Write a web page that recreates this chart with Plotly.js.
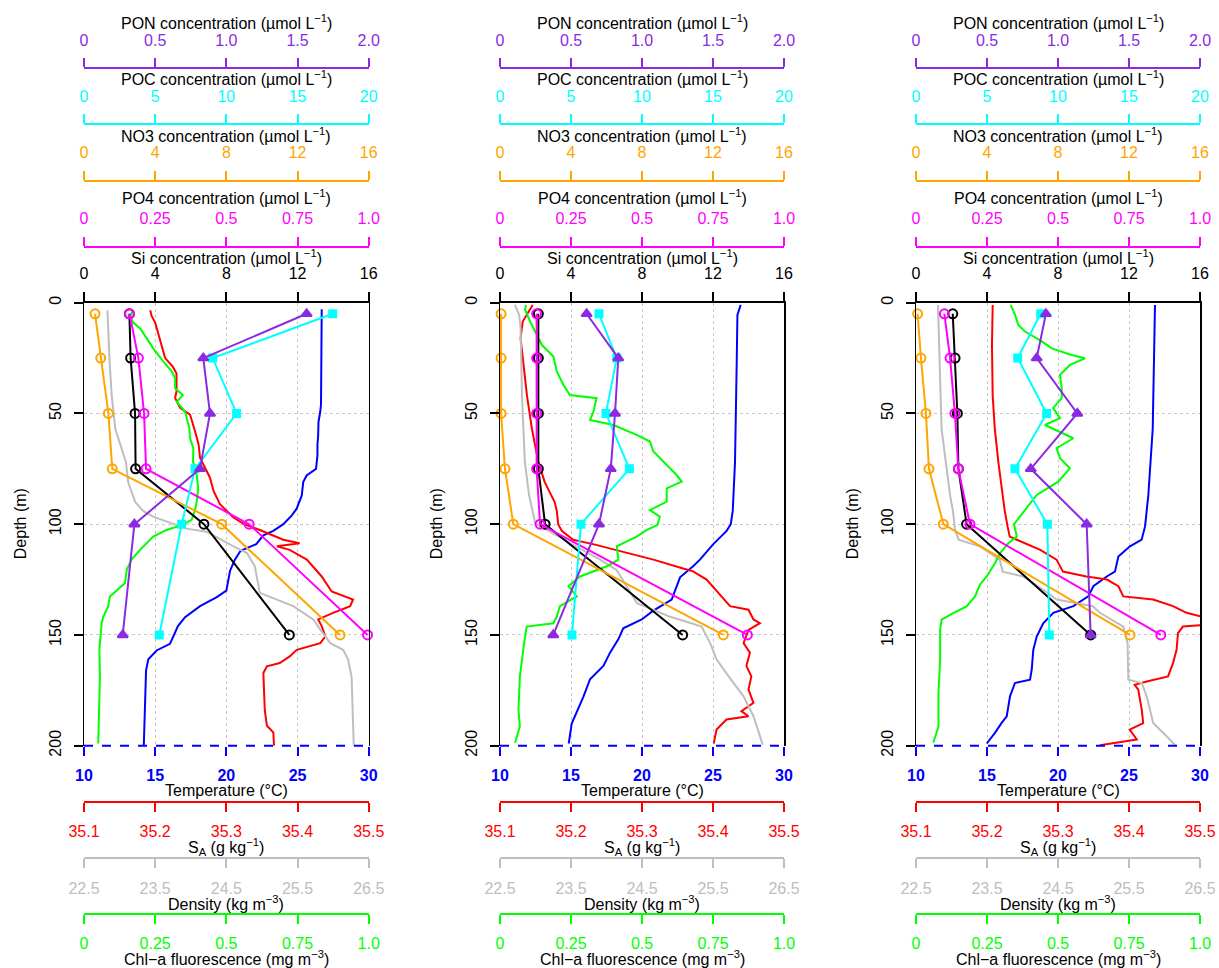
<!DOCTYPE html>
<html><head><meta charset="utf-8">
<script src="https://cdn.plot.ly/plotly-3.0.1.min.js"></script>
<style>html,body{margin:0;padding:0;background:#fff;} #chart{width:1219px;height:968px;}</style>
</head><body><div id="chart"></div>
<script>
// ---------------- DATA ----------------
const sampleDepths = [5, 25, 50, 75, 100, 150];

// Panel 1
const p1Si  = [2.55, 2.62, 2.87, 2.90, 6.74, 11.54];
const p1PO4 = [0.160, 0.191, 0.211, 0.218, 0.580, 0.996];
const p1NO3 = [0.62, 0.94, 1.37, 1.59, 7.74, 14.39];
const p1POC = [17.47, 9.04, 10.72, 7.80, 6.86, 5.29];
const p1PON = [1.564, 0.838, 0.885, 0.815, 0.354, 0.272];
const p1TempDepth = [3, 12, 27, 46, 49, 54, 60, 64, 69, 75, 78, 81, 87, 93, 96, 100, 103, 105, 109, 112, 116, 121, 130, 133, 137, 142, 146, 154, 157, 161, 166, 184, 200];
const p1Temp = [26.70, 26.70, 26.67, 26.65, 26.60, 26.47, 26.45, 26.40, 26.40, 26.30, 25.64, 25.40, 25.30, 24.94, 24.60, 24.00, 23.30, 22.60, 22.10, 21.00, 20.60, 20.26, 20.00, 19.30, 18.15, 17.10, 16.60, 16.04, 15.10, 14.52, 14.36, 14.27, 14.20];
const p1SalDepth = [3.4, 6, 9, 17, 25, 29, 32, 40, 43, 47.5, 50.5, 58, 64, 70, 74.5, 79, 85, 91, 97, 100, 102.6, 107, 108.6, 110, 111.6, 116, 123.6, 130.4, 134, 137, 140, 143, 146, 150.7, 153.7, 156.7, 159.7, 162.7, 164.2, 167.2, 184, 191, 194, 200];
const p1Sal = [35.193, 35.195, 35.200, 35.207, 35.214, 35.225, 35.230, 35.230, 35.228, 35.235, 35.249, 35.256, 35.261, 35.263, 35.270, 35.277, 35.282, 35.291, 35.310, 35.325, 35.347, 35.380, 35.403, 35.371, 35.389, 35.413, 35.434, 35.448, 35.478, 35.474, 35.450, 35.429, 35.434, 35.439, 35.432, 35.399, 35.389, 35.375, 35.357, 35.352, 35.354, 35.357, 35.366, 35.367];
const p1DensDepth = [3.4, 27, 42, 57, 64, 72, 81, 90, 94, 96.6, 102, 103.4, 110, 113, 119, 131, 137, 143, 147.6, 153.7, 156.7, 161, 169, 200];
const p1Dens = [22.83, 22.86, 22.89, 22.94, 23.01, 23.09, 23.12, 23.22, 23.33, 23.47, 23.94, 24.22, 24.60, 24.79, 24.90, 24.97, 25.44, 25.72, 25.82, 25.96, 26.14, 26.21, 26.26, 26.29];
const p1ChlDepth = [3.4, 6, 9, 11.6, 16, 20.6, 26.6, 31, 34, 38.6, 41.7, 44.7, 49.2, 56.7, 61, 65.7, 71.7, 77.8, 83.8, 89.8, 93.6, 98, 100.4, 102.6, 105.6, 108.6, 111.6, 116, 120.6, 126.6, 132.6, 137, 141.7, 144.7, 156.7, 168.7, 183.8, 199];
const p1Chl = [0.173, 0.162, 0.173, 0.197, 0.220, 0.243, 0.279, 0.308, 0.320, 0.320, 0.347, 0.326, 0.355, 0.370, 0.372, 0.384, 0.383, 0.396, 0.401, 0.396, 0.390, 0.378, 0.343, 0.290, 0.243, 0.220, 0.197, 0.167, 0.150, 0.144, 0.091, 0.085, 0.068, 0.062, 0.054, 0.056, 0.054, 0.050];

// Panel 2
const p2Si  = [2.16, 2.16, 2.16, 2.16, 2.54, 10.29];
const p2PO4 = [0.129, 0.129, 0.129, 0.129, 0.141, 0.871];
const p2NO3 = [0.06, 0.06, 0.06, 0.28, 0.75, 12.58];
const p2POC = [6.97, 8.22, 7.46, 9.11, 5.70, 5.07];
const p2PON = [0.610, 0.833, 0.810, 0.780, 0.697, 0.375];
const p2TempDepth = [1, 5.5, 27, 72, 94, 100, 103, 109, 116, 119, 124, 134, 139, 143, 147, 152, 158, 164, 170, 178, 190, 199];
const p2Temp = [26.95, 26.72, 26.67, 26.55, 26.39, 26.25, 25.96, 25.02, 24.08, 23.60, 22.68, 22.09, 20.80, 19.98, 18.68, 18.33, 17.75, 17.28, 16.34, 15.87, 15.05, 14.84];
const p2SalDepth = [1, 5.5, 8.5, 16, 27, 42, 57, 72, 81, 90, 94, 100, 103, 107, 109, 112, 116, 120, 121.3, 125, 130, 137, 138.6, 143, 144.7, 147.7, 153.7, 158, 164, 168.7, 174.7, 180.7, 184.4, 186.7, 188.2, 192.7, 199];
const p2Sal = [35.146, 35.138, 35.132, 35.129, 35.133, 35.138, 35.145, 35.154, 35.163, 35.177, 35.180, 35.182, 35.187, 35.203, 35.231, 35.269, 35.316, 35.358, 35.372, 35.391, 35.405, 35.424, 35.450, 35.457, 35.466, 35.450, 35.443, 35.452, 35.447, 35.454, 35.450, 35.457, 35.440, 35.450, 35.419, 35.405, 35.401];
const p2DensDepth = [1, 5.5, 11.6, 42, 72, 87, 100, 102.6, 108.6, 116, 120.6, 128, 135.7, 141.7, 146.2, 153.7, 161, 168.7, 177.7, 186.7, 195.7, 199.5];
const p2Dens = [22.71, 22.77, 22.79, 22.81, 22.85, 22.91, 23.00, 23.16, 23.49, 23.91, 24.14, 24.28, 24.43, 24.89, 25.34, 25.46, 25.55, 25.72, 25.93, 26.07, 26.16, 26.20];
const p2ChlDepth = [1, 3, 8.5, 14.5, 19, 24.3, 31, 37, 41.7, 43.1, 49.2, 53, 55.2, 59.7, 62.7, 67.2, 71.7, 77.8, 80.8, 83.8, 89.8, 93.6, 96.6, 100.4, 102.6, 105.6, 110, 116, 119, 123.6, 128, 132.6, 137, 141.7, 144.7, 146.2, 153.7, 168.7, 183.8, 191.3, 198.7];
const p2Chl = [0.092, 0.088, 0.106, 0.129, 0.147, 0.188, 0.200, 0.223, 0.246, 0.340, 0.329, 0.317, 0.399, 0.481, 0.528, 0.540, 0.575, 0.622, 0.640, 0.587, 0.587, 0.528, 0.563, 0.554, 0.517, 0.481, 0.411, 0.417, 0.376, 0.282, 0.241, 0.270, 0.211, 0.200, 0.188, 0.094, 0.085, 0.070, 0.065, 0.070, 0.053];

// Panel 3
const p3Si  = [2.07, 2.20, 2.33, 2.39, 2.85, 9.84];
const p3PO4 = [0.100, 0.120, 0.137, 0.149, 0.190, 0.862];
const p3NO3 = [0.09, 0.28, 0.56, 0.73, 1.54, 12.06];
const p3POC = [8.78, 7.16, 9.20, 6.97, 9.25, 9.39];
const p3PON = [0.915, 0.850, 1.136, 0.808, 1.202, 1.230];
const p3TempDepth = [1, 27, 57, 87, 94, 101, 107, 110, 114.6, 121.4, 123.6, 128, 132.6, 137, 140, 144.7, 150.7, 156.7, 165.7, 170.2, 171.7, 177.7, 186.7, 189.7, 194.2, 199];
const p3Temp = [26.83, 26.76, 26.67, 26.36, 26.25, 26.13, 25.89, 25.07, 24.25, 24.01, 23.43, 22.49, 22.13, 21.08, 19.67, 18.96, 18.50, 18.26, 18.15, 18.03, 16.97, 16.62, 16.39, 16.03, 15.56, 14.98];
const p3SalDepth = [1, 19, 42, 57, 72, 87, 94, 101, 105.6, 107, 111.6, 116, 121.4, 123.6, 125, 128, 132.6, 134, 137, 140, 142.4, 145.4, 146.2, 149.2, 156.7, 162.7, 168.7, 171, 172.5, 174.7, 183.8, 189.8, 192.7, 197.2, 198.7, 199.8];
const p3Sal = [35.208, 35.207, 35.208, 35.211, 35.216, 35.222, 35.225, 35.229, 35.232, 35.242, 35.275, 35.298, 35.307, 35.340, 35.369, 35.385, 35.392, 35.434, 35.462, 35.481, 35.510, 35.510, 35.476, 35.469, 35.467, 35.462, 35.455, 35.425, 35.408, 35.413, 35.418, 35.420, 35.401, 35.411, 35.383, 35.359];
const p3DensDepth = [1, 27, 57, 87, 94, 102.6, 107, 110, 116, 121.4, 123.6, 129.6, 134, 137, 140, 146.2, 153.7, 170.2, 171.7, 177.7, 186.7, 189.7, 195.7, 199.8];
const p3Dens = [22.81, 22.83, 22.86, 22.98, 23.02, 23.05, 23.10, 23.40, 23.68, 23.72, 24.01, 24.29, 24.48, 24.99, 25.09, 25.42, 25.48, 25.49, 25.68, 25.75, 25.82, 25.84, 26.03, 26.15];
const p3ChlDepth = [1, 5.5, 10, 13, 17.5, 20.6, 23.6, 25.1, 28.1, 32.6, 38.6, 43.1, 47.6, 52.1, 55.2, 61.2, 65.7, 70.2, 74.8, 80.8, 86.8, 92.8, 100, 105.6, 108.6, 113.1, 117.6, 123.6, 127.3, 132.6, 137.1, 140.1, 143.1, 147.6, 161.2, 176.2, 191.3, 198.7];
const p3Chl = [0.333, 0.349, 0.360, 0.384, 0.443, 0.478, 0.548, 0.595, 0.542, 0.507, 0.513, 0.513, 0.483, 0.507, 0.454, 0.554, 0.495, 0.507, 0.542, 0.501, 0.425, 0.390, 0.345, 0.355, 0.325, 0.296, 0.278, 0.249, 0.225, 0.208, 0.178, 0.131, 0.090, 0.085, 0.085, 0.079, 0.079, 0.061];

// Tick values and labels
const tempTickVals = [10, 15, 20, 25, 30];       const tempTickText = ['10', '15', '20', '25', '30'];
const salTickVals  = [35.1, 35.2, 35.3, 35.4, 35.5]; const salTickText = ['35.1', '35.2', '35.3', '35.4', '35.5'];
const densTickVals = [22.5, 23.5, 24.5, 25.5, 26.5]; const densTickText = ['22.5', '23.5', '24.5', '25.5', '26.5'];
const chlTickVals  = [0, 0.25, 0.5, 0.75, 1];    const chlTickText = ['0', '0.25', '0.5', '0.75', '1.0'];
const siTickVals   = [0, 4, 8, 12, 16];          const siTickText = ['0', '4', '8', '12', '16'];
const po4TickVals  = [0, 0.25, 0.5, 0.75, 1];    const po4TickText = ['0', '0.25', '0.5', '0.75', '1.0'];
const no3TickVals  = [0, 4, 8, 12, 16];          const no3TickText = ['0', '4', '8', '12', '16'];
const pocTickVals  = [0, 5, 10, 15, 20];         const pocTickText = ['0', '5', '10', '15', '20'];
const ponTickVals  = [0, 0.5, 1, 1.5, 2];        const ponTickText = ['0', '0.5', '1.0', '1.5', '2.0'];
const depthTickVals = [0, 50, 100, 150, 200];

const panels = [
  {si:p1Si, po4:p1PO4, no3:p1NO3, poc:p1POC, pon:p1PON, tD:p1TempDepth, t:p1Temp, sD:p1SalDepth, s:p1Sal, dD:p1DensDepth, d:p1Dens, cD:p1ChlDepth, c:p1Chl},
  {si:p2Si, po4:p2PO4, no3:p2NO3, poc:p2POC, pon:p2PON, tD:p2TempDepth, t:p2Temp, sD:p2SalDepth, s:p2Sal, dD:p2DensDepth, d:p2Dens, cD:p2ChlDepth, c:p2Chl},
  {si:p3Si, po4:p3PO4, no3:p3NO3, poc:p3POC, pon:p3PON, tD:p3TempDepth, t:p3Temp, sD:p3SalDepth, s:p3Sal, dD:p3DensDepth, d:p3Dens, cD:p3ChlDepth, c:p3Chl}
];

// ---------------- LAYOUT ----------------
const W = 1219, H = 968;
const FONT = '"Liberation Sans", Arial, Helvetica, sans-serif';
const FS = 16;
const panelPx = [[84, 368.7], [500, 784], [916, 1200]];
const yTopPx = 302.7, yBotPx = 745.7;
const fx = p => p / W, fy = p => 1 - p / H;
const yDomain = [fy(yBotPx), fy(yTopPx)];

const COL = {temp:'#0000FF', sal:'#FF0000', dens:'#BEBEBE', chl:'#00FF00', si:'#000000', po4:'#FF00FF', no3:'#FFA500', poc:'#00FFFF', pon:'#8A2BE2'};

// axis specs (order sets drawing order)
const axSpec = [
  {key:'temp', range:[10,30], tv:tempTickVals, tt:tempTickText, side:'bottom', linePx:null, titlePx:790, title:'Temperature (°C)', base:true},
  {key:'sal', range:[35.1,35.5], tv:salTickVals, tt:salTickText, side:'bottom', linePx:801.7, titlePx:846.7, title:'S<sub>A</sub> (g kg<sup>−1</sup>)'},
  {key:'dens', range:[22.5,26.5], tv:densTickVals, tt:densTickText, side:'bottom', linePx:858.3, titlePx:902.7, title:'Density (kg m<sup>−3</sup>)'},
  {key:'chl', range:[0,1], tv:chlTickVals, tt:chlTickText, side:'bottom', linePx:914, titlePx:958.3, title:'Chl−a fluorescence (mg m<sup>−3</sup>)'},
  {key:'si', range:[0,16], tv:siTickVals, tt:siTickText, side:'top', linePx:null, titlePx:256.7, title:'Si concentration (µmol L<sup>−1</sup>)'},
  {key:'po4', range:[0,1], tv:po4TickVals, tt:po4TickText, side:'top', linePx:246.7, titlePx:196.7, title:'PO4 concentration (µmol L<sup>−1</sup>)'},
  {key:'no3', range:[0,16], tv:no3TickVals, tt:no3TickText, side:'top', linePx:180.7, titlePx:135, title:'NO3 concentration (µmol L<sup>−1</sup>)'},
  {key:'poc', range:[0,20], tv:pocTickVals, tt:pocTickText, side:'top', linePx:124.3, titlePx:78.3, title:'POC concentration (µmol L<sup>−1</sup>)'},
  {key:'pon', range:[0,2], tv:ponTickVals, tt:ponTickText, side:'top', linePx:68.3, titlePx:21.7, title:'PON concentration (µmol L<sup>−1</sup>)'}
];

const layout = {
  width: W, height: H,
  margin: {l:0, r:0, t:0, b:0},
  paper_bgcolor: '#fff', plot_bgcolor: 'rgba(0,0,0,0)',
  showlegend: false,
  font: {family: FONT, size: FS, color: '#000'},
  annotations: [], shapes: []
};
const traces = [];

panels.forEach((P, k) => {
  const b = 9 * k + 1;
  const xid = i => (b + i === 1 ? 'x' : 'x' + (b + i));
  const xname = i => (b + i === 1 ? 'xaxis' : 'xaxis' + (b + i));
  const yid = k === 0 ? 'y' : 'y' + (k + 1);
  const yname = k === 0 ? 'yaxis' : 'yaxis' + (k + 1);
  const dom = [fx(panelPx[k][0]), fx(panelPx[k][1])];
  const cx = (panelPx[k][0] + panelPx[k][1]) / 2;

  axSpec.forEach((a, i) => {
    const col = COL[a.key];
    const ax = {
      range: a.range, tickmode: 'array', tickvals: a.tv, ticktext: a.tt,
      side: a.side, ticks: 'outside', ticklen: 9, tickwidth: 2, tickcolor: col,
      showline: true, linecolor: col, linewidth: 2,
      tickfont: {family: FONT, size: FS, color: col},
      ticklabelstandoff: 6,
      zeroline: false, showgrid: false, fixedrange: true
    };
    if (a.base) {
      ax.domain = dom; ax.anchor = yid;
      ax.showgrid = true; ax.gridcolor = '#C8C8C8'; ax.griddash = 'dot'; ax.gridwidth = 1;
      ax.showline = false;
      ax.tickfont.weight = 'bold';
    } else {
      ax.overlaying = xid(0);
      if (a.linePx === null) { ax.anchor = yid; }
      else { ax.anchor = 'free'; ax.position = fy(a.linePx); }
    }
    layout[xname(i)] = ax;
    layout.annotations.push({
      xref:'paper', yref:'paper', x: fx(cx), y: fy(a.titlePx), xanchor:'center', yanchor:'middle',
      text: a.title, showarrow:false, font:{family:FONT, size:FS, color:'#000'}
    });
  });

  layout[yname] = {
    domain: yDomain, anchor: xid(0), range: [200, 0], side: 'left',
    tickmode: 'array', tickvals: depthTickVals, tickangle: -90,
    ticks: 'outside', ticklen: 9, tickwidth: 2, tickcolor: '#000',
    showline: true, linecolor: '#000', linewidth: 1.5, mirror: true,
    showgrid: true, gridcolor: '#C8C8C8', griddash: 'dot', gridwidth: 1,
    zeroline: false, fixedrange: true, ticklabelstandoff: 6,
    tickfont: {family: FONT, size: FS, color: '#000'}
  };
  layout.annotations.push({
    xref:'paper', yref:'paper', x: fx(panelPx[k][0] - 64), y: fy((yTopPx + yBotPx) / 2),
    xanchor:'center', yanchor:'middle', textangle: -90, text:'Depth (m)', showarrow:false,
    font:{family:FONT, size:FS, color:'#000'}
  });
  // bottom (temperature) axis line, dashed blue as in the reference
  layout.shapes.push({type:'line', xref:'paper', yref:'paper', x0: dom[0], x1: dom[1], y0: yDomain[0], y1: yDomain[0],
    line:{color: COL.temp, width: 2, dash: 'dash'}});

  // profile traces
  const prof = (i, xs, ys, col) => traces.push({type:'scatter', mode:'lines', x: xs, y: ys, xaxis: xid(i), yaxis: yid,
    line:{color: col, width: 2}, hoverinfo:'skip', cliponaxis: true});
  prof(0, P.t, P.tD, COL.temp);
  prof(1, P.s, P.sD, COL.sal);
  prof(2, P.d, P.dD, COL.dens);
  prof(3, P.c, P.cD, COL.chl);

  // discrete sample traces
  const disc = (i, xs, col, sym, size) => traces.push({type:'scatter', mode:'lines+markers', x: xs, y: sampleDepths,
    xaxis: xid(i), yaxis: yid, line:{color: col, width: 2},
    marker:{symbol: sym, size: size, color: col, line:{color: col, width: 2}}, hoverinfo:'skip', cliponaxis: false});
  disc(4, P.si, COL.si, 'circle-open', 9);
  disc(5, P.po4, COL.po4, 'circle-open', 9);
  disc(6, P.no3, COL.no3, 'circle-open', 9);
  disc(7, P.poc, COL.poc, 'square', 7);
  disc(8, P.pon, COL.pon, 'triangle-up', 9);
});

Plotly.newPlot('chart', traces, layout, {staticPlot: true, displayModeBar: false});
</script></body></html>
